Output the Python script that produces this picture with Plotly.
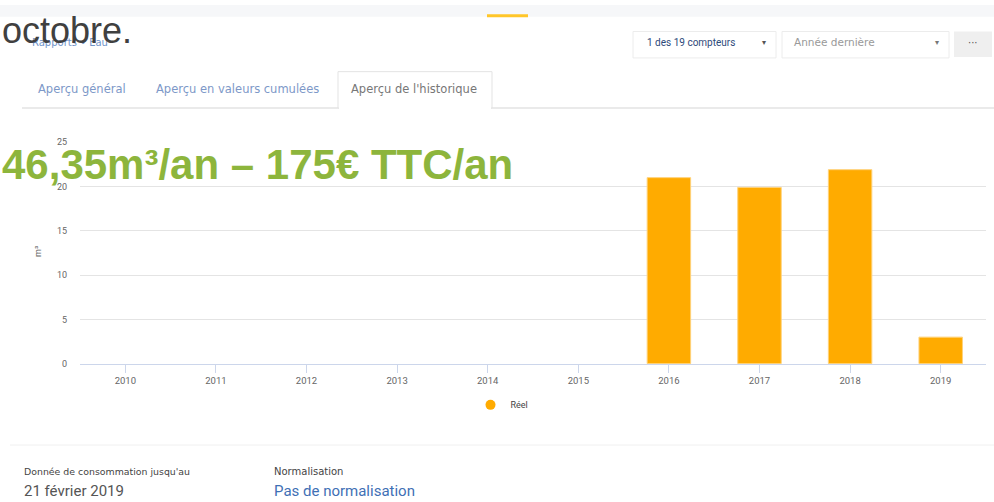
import plotly.graph_objects as go

annees = ['2010', '2011', '2012', '2013', '2014', '2015', '2016', '2017', '2018', '2019']
conso_reel = [None, None, None, None, None, None, 21.0, 19.9, 21.9, 3.0]
y_ticks = [0, 5, 10, 15, 20, 25]

W, H = 994, 502


def px(x):
    return x / W


def py(y):
    return 1 - y / H


fig = go.Figure()

fig.add_trace(
    go.Bar(
        x=annees,
        y=conso_reel,
        name='Réel',
        showlegend=False,
        marker=dict(color='#ffab00', line=dict(color='#ffd27a', width=1)),
    )
)

# trace vide pour avoir un rond dans la légende
fig.add_trace(
    go.Scatter(
        x=[None], y=[None],
        mode='markers',
        name='Réel',
        marker=dict(color='#ffab00', size=10, symbol='circle'),
    )
)

fig.update_layout(
    width=W,
    height=H,
    margin=dict(l=0, r=0, t=0, b=0),
    plot_bgcolor='#ffffff',
    paper_bgcolor='#ffffff',
    bargap=0.52,
    font=dict(family='Roboto', size=9, color='#666666'),
    xaxis=dict(
        domain=[px(80), px(986)],
        type='category',
        showgrid=False,
        showline=True,
        linecolor='#ccd6eb',
        linewidth=1,
        ticks='outside',
        ticklen=8,
        tickcolor='#ccd6eb',
        tickfont=dict(size=9.5, color='#666666'),
    ),
    yaxis=dict(
        domain=[py(366), py(140)],
        range=[0, 25],
        tickvals=y_ticks,
        showgrid=True,
        gridcolor='#e4e4e4',
        zeroline=False,
        showline=False,
        ticklabelstandoff=12,
        tickfont=dict(size=9, color='#666666'),
    ),
    legend=dict(
        orientation='h',
        x=px(502), xanchor='center',
        y=py(408), yanchor='middle',
        font=dict(size=9, color='#444444'),
        bgcolor='rgba(0,0,0,0)',
    ),
)

shapes = [
    # bandeau du haut
    dict(type='rect', x0=0, x1=1, y0=py(0), y1=py(12), fillcolor='#f6f7f9', line=dict(width=0)),
    dict(type='line', x0=px(487), x1=px(528), y0=py(11), y1=py(11), line=dict(color='#ffc629', width=3)),
    # sélecteurs
    dict(type='rect', x0=px(633), x1=px(776), y0=py(54), y1=py(27), fillcolor='#ffffff', line=dict(color='#ececec', width=1)),
    dict(type='rect', x0=px(782), x1=px(949), y0=py(54), y1=py(27), fillcolor='#ffffff', line=dict(color='#ececec', width=1)),
    dict(type='rect', x0=px(954), x1=px(992), y0=py(53), y1=py(27), fillcolor='#efefef', line=dict(width=0)),
    # onglets
    dict(type='line', x0=px(22), x1=1, y0=py(105), y1=py(105), line=dict(color='#e3e3e3', width=1.5)),
    dict(type='rect', x0=px(338), x1=px(492), y0=py(105), y1=py(68), fillcolor='#ffffff', line=dict(color='#e3e3e3', width=1)),
    dict(type='line', x0=px(339), x1=px(491), y0=py(105), y1=py(105), line=dict(color='#ffffff', width=2)),
    # séparateur du bas
    dict(type='line', x0=px(10), x1=1, y0=py(449), y1=py(449), line=dict(color='#f0f0f0', width=1)),
]
for s in shapes:
    s.update(xref='paper', yref='paper', layer='below')
fig.update_layout(shapes=shapes)

UI = 'DejaVu Sans'
notes = [
    dict(text='Rapports • Eau', x=px(30), y=py(38), size=10, color='#6f93c9', xanchor='left', font=UI),
    dict(text='1 des 19 compteurs', x=px(645), y=py(38), size=10, color='#2e4a7a', xanchor='left', font='Roboto'),
    dict(text='▾', x=px(764), y=py(38), size=8, color='#555555', xanchor='center', font=UI),
    dict(text='Année dernière', x=px(792), y=py(38), size=10.5, color='#999999', xanchor='left', font=UI),
    dict(text='▾', x=px(937), y=py(38), size=8, color='#777777', xanchor='center', font=UI),
    dict(text='···', x=px(973), y=py(38), size=10, color='#555555', xanchor='center', font=UI),
    dict(text='Aperçu général', x=px(36), y=py(86), size=11.5, color='#7d98c8', xanchor='left', font=UI),
    dict(text='Aperçu en valeurs cumulées', x=px(154), y=py(86), size=11.5, color='#7d98c8', xanchor='left', font=UI),
    dict(text="Aperçu de l'historique", x=px(349), y=py(86), size=11.5, color='#777777', xanchor='left', font=UI),
    dict(text="Donnée de consommation jusqu'au", x=px(22), y=py(476), size=9.4, color='#444444', xanchor='left', font=UI),
    dict(text='21 février 2019', x=px(22), y=py(496), size=15, color='#555555', xanchor='left', font='Roboto'),
    dict(text='Normalisation', x=px(272), y=py(476), size=10, color='#444444', xanchor='left', font=UI),
    dict(text='Pas de normalisation', x=px(272), y=py(496), size=15, color='#3f70b5', xanchor='left', font='Roboto'),
]
annotations = []
for n in notes:
    annotations.append(dict(
        text=n['text'], x=n['x'], y=n['y'], xref='paper', yref='paper',
        xanchor=n['xanchor'], yanchor='middle', showarrow=False,
        font=dict(family=n['font'], size=n['size'], color=n['color']),
    ))

# titre de l'axe y
annotations.append(dict(
    text='m³', x=px(38), y=py(252), xref='paper', yref='paper', textangle=-90,
    xanchor='center', showarrow=False, font=dict(family='Roboto', size=9, color='#666666'),
))

# textes incrustés par-dessus la capture
annotations.append(dict(
    text='octobre.', x=0, y=py(26), xref='paper', yref='paper',
    xanchor='left', yanchor='middle', showarrow=False,
    font=dict(family='Liberation Sans', size=36, color='#404040'),
))
annotations.append(dict(
    text='<b>46,35m³/an – 175€ TTC/an</b>', x=0, y=py(163), xref='paper', yref='paper',
    xanchor='left', yanchor='middle', showarrow=False,
    font=dict(family='Liberation Sans', size=42, color='#8db53c'),
))

fig.update_layout(annotations=annotations)

fig.write_html(
    'out.html',
    config={'displayModeBar': False},
    post_script="document.body.style.margin='0';document.body.style.overflow='hidden';",
)
